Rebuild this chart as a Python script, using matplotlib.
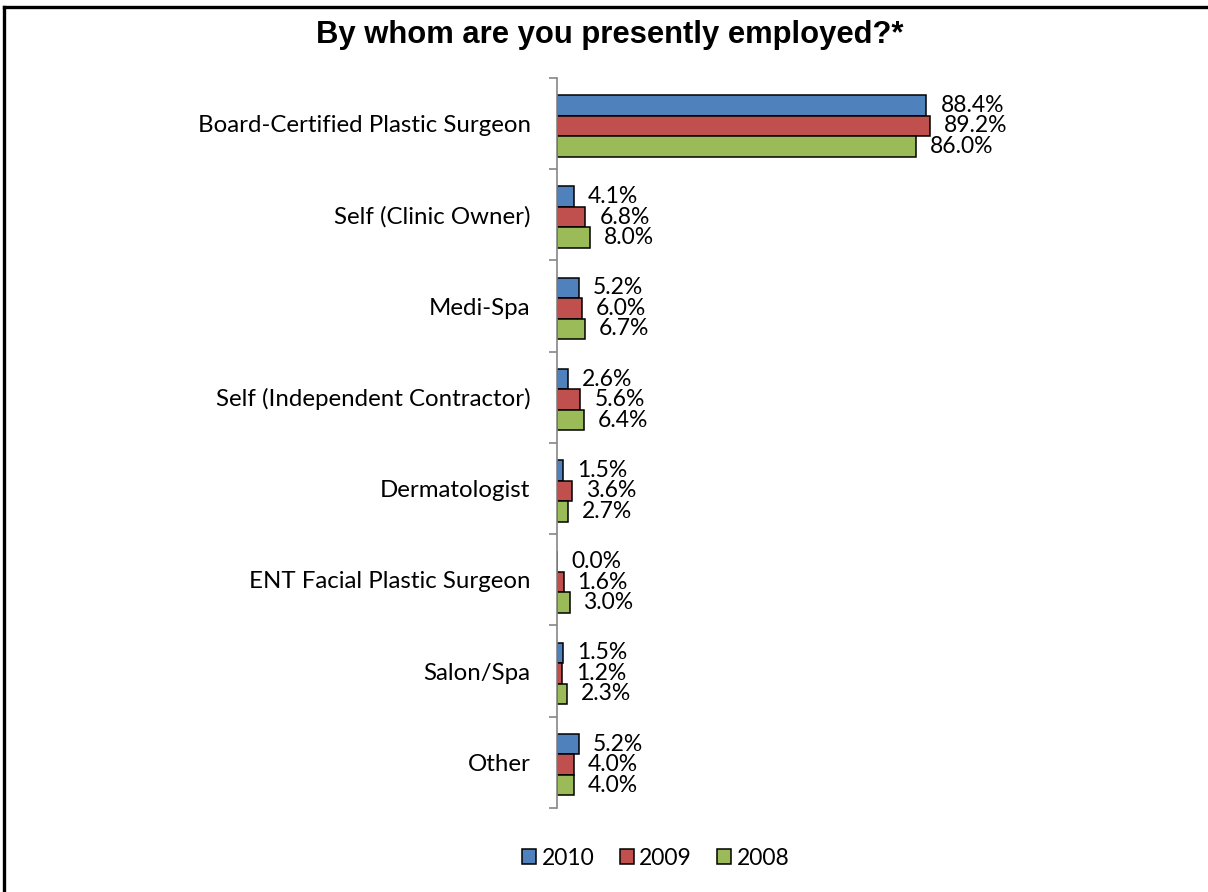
"""
Horizontal grouped bars: employer of respondents, 2008-2010.
"""
import numpy as np
import matplotlib.pyplot as plt
from matplotlib.lines import Line2D
from matplotlib.patches import Patch

categories = [
    'Board-Certified Plastic Surgeon',
    'Self (Clinic Owner)',
    'Medi-Spa',
    'Self (Independent Contractor)',
    'Dermatologist',
    'ENT Facial Plastic Surgeon',
    'Salon/Spa',
    'Other',
]
years = ['2010', '2009', '2008']
pct_2010 = [88.4, 4.1, 5.2, 2.6, 1.5, 0.0, 1.5, 5.2]
pct_2009 = [89.2, 6.8, 6.0, 5.6, 3.6, 1.6, 1.2, 4.0]
pct_2008 = [86.0, 8.0, 6.7, 6.4, 2.7, 3.0, 2.3, 4.0]
colors = ['#4F81BD', '#C0504D', '#9BBB59']

fig = plt.figure(figsize=(12.08, 8.92), dpi=100)
ax = fig.add_axes([0.4611, 0.0942, 0.346, 0.8184])

y = np.arange(len(categories))
bar_h = 0.225
for i, (vals, col) in enumerate(zip([pct_2010, pct_2009, pct_2008], colors)):
    pos = y + (i - 1) * bar_h + 0.025
    ax.barh(pos, vals, height=bar_h, color=col, edgecolor='black',
            linewidth=1.1)
    for p, v in zip(pos, vals):
        ax.annotate(f'{v:.1f}%', (v, p), xytext=(10, 0),
                    textcoords='offset points', va='center', ha='left',
                    fontsize=16.5, family='Lato')

ax.set_ylim(len(categories) - 0.5, -0.5)
ax.set_xlim(0, 100)

# category labels at centres, tick marks between groups
ax.set_yticks(y)
ax.set_yticklabels(categories, fontsize=17.3, family='Lato')
ax.tick_params(axis='y', which='major', length=0, pad=19)
ax.set_yticks(np.arange(len(categories) + 1) - 0.5, minor=True)
ax.tick_params(axis='y', which='minor', length=6, width=1.2,
               color='#868686')
ax.set_xticks([])
for side in ['top', 'right', 'bottom']:
    ax.spines[side].set_visible(False)
ax.spines['left'].set_color('#868686')
ax.spines['left'].set_linewidth(1.2)

fig.text(0.505, 0.961, 'By whom are you presently employed?*',
         ha='center', va='center', fontsize=22.3, fontweight='bold',
         family='Liberation Sans')

handles = [Patch(facecolor=c, edgecolor='black', linewidth=1.1)
           for c in colors]
fig.legend(handles, years, loc='center', bbox_to_anchor=(0.543, 0.038),
           ncol=3, frameon=False, prop={'family': 'Lato', 'size': 16.5},
           handlelength=0.6, handleheight=0.6, handletextpad=0.25,
           columnspacing=1.1)

# outer frame (top and left edges)
fig.add_artist(Line2D([0.0029, 1.0], [0.992, 0.992], color='black',
                      linewidth=2.4, transform=fig.transFigure))
fig.add_artist(Line2D([0.0029, 0.0029], [0.0, 0.992], color='black',
                      linewidth=2.4, transform=fig.transFigure))

fig.savefig('out.png', dpi=100)
